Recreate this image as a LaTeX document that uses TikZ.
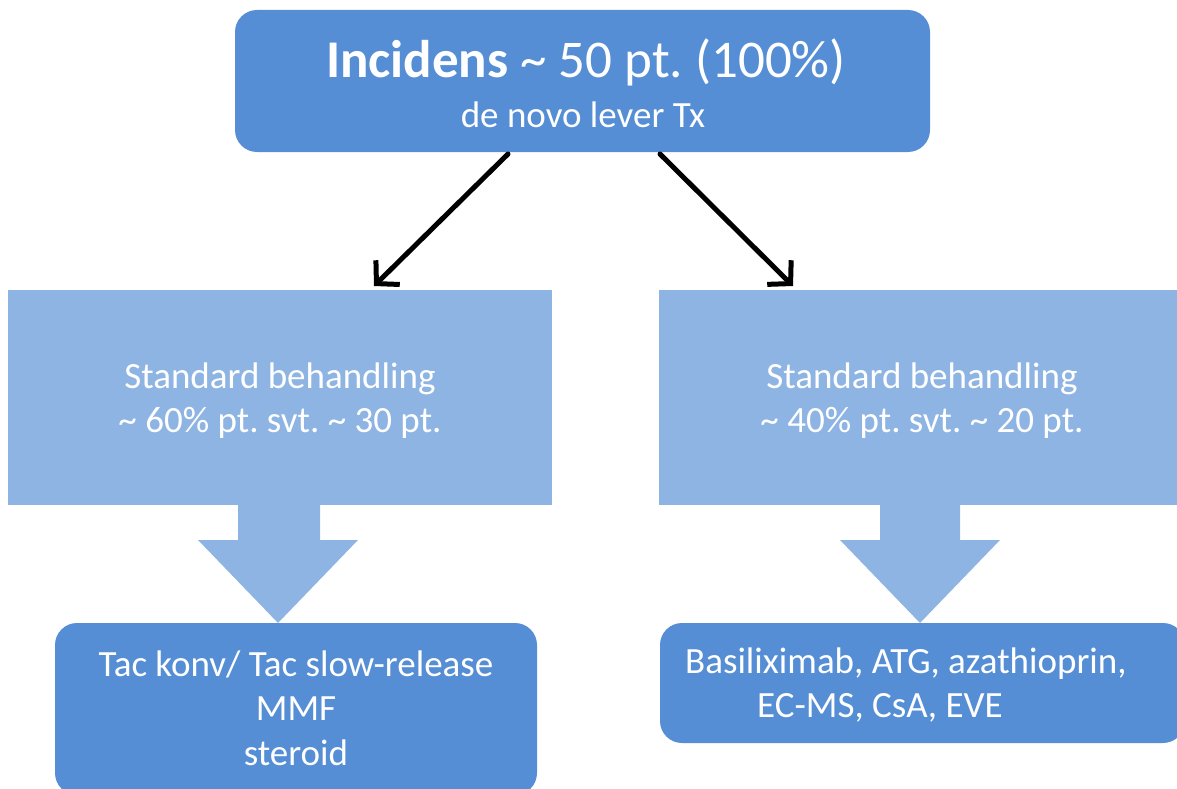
\documentclass[tikz,border=0pt]{standalone}
\usepackage{fontspec}
\setmainfont{Carlito}
\frenchspacing
\usetikzlibrary{arrows.meta}
\definecolor{darkblue}{HTML}{558ED5}
\definecolor{lightblue}{HTML}{8EB4E3}
\tikzset{
  darkbox/.style={fill=darkblue, draw=none, rounded corners=22bp},
  lightbox/.style={fill=lightblue, draw=none},
  blockarrow/.style={fill=lightblue, draw=none},
  txt/.style={text=white, inner sep=0pt, font=\fontsize{37bp}{44bp}\selectfont},
  conn/.style={draw=black, line width=5bp, line cap=round, -{Straight Barb[length=16bp,width=34bp,line width=5bp]}},
}
\begin{document}
\begin{tikzpicture}[x=1bp,y=-1bp]
\useasboundingbox (0,0) rectangle (1177,789);
% top box
\path[darkbox] (235,10) rectangle (930,152);
\node[txt, font=\fontsize{53bp}{60bp}\selectfont, anchor=base] (title) at (586,78) {\textbf{Incidens} \textasciitilde{} 50 pt. (100\%)};
\node[txt, anchor=base] (sub) at (583,127) {de novo lever Tx};
\coordinate (topL) at (508,154);
\coordinate (topR) at (660,154);
% light boxes
\path[lightbox] (8,290) rectangle (552,505);
\path[lightbox] (659,290) rectangle (1177,505);
\coordinate (midL) at (374,286);
\coordinate (midR) at (793,286);
\node[txt, anchor=base] (l1) at (280,388) {Standard behandling};
\node[txt, anchor=base] (l2) at (280,432) {\textasciitilde{} 60\% pt. svt. \textasciitilde{} 30 pt.};
\node[txt, anchor=base] (r1) at (922,388) {Standard behandling};
\node[txt, anchor=base] (r2) at (922,432) {\textasciitilde{} 40\% pt. svt. \textasciitilde{} 20 pt.};
% block arrows
\path[blockarrow] (238,504) -- (320,504) -- (320,540) -- (358,540) -- (278,623) -- (198,540) -- (238,540) -- cycle;
\path[blockarrow] (880,504) -- (960,504) -- (960,540) -- (1000,540) -- (920,623) -- (840,540) -- (880,540) -- cycle;
% bottom boxes
\path[darkbox] (55,623) rectangle (537,795);
\path[darkbox] (660,623) rectangle (1185,743);
\node[txt, anchor=base] (b1) at (296,676) {Tac konv/ Tac slow-release};
\node[txt, anchor=base] (b2) at (296,720) {MMF};
\node[txt, anchor=base] (b3) at (296,765) {steroid};
\node[txt, anchor=base west] (c1) at (685,673) {Basiliximab, ATG, azathioprin,};
\node[txt, anchor=base west] (c2) at (757,717) {EC-MS, CsA, EVE};
% connectors
\draw[conn] (topL) -- (midL);
\draw[conn] (topR) -- (midR);
\end{tikzpicture}
\end{document}
